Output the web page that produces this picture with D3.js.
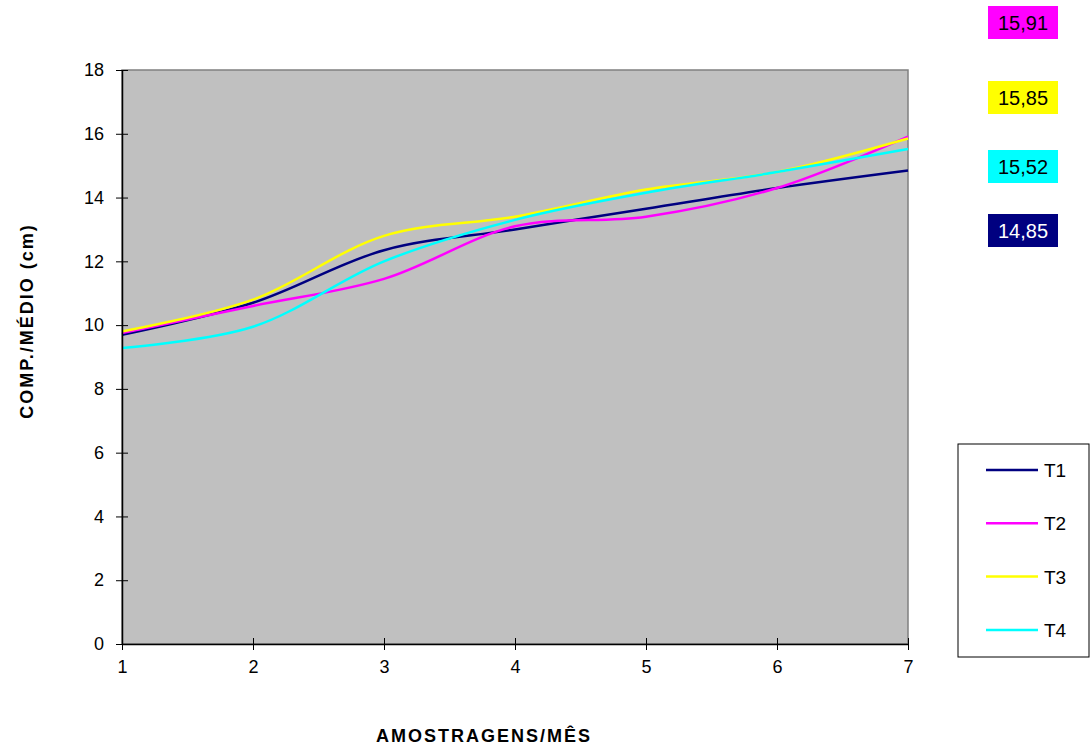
<!DOCTYPE html>
<html>
<head>
<meta charset="utf-8">
<script src="https://cdn.jsdelivr.net/npm/d3@7"></script>
<style>
  body { margin: 0; background: #fff; }
  svg text { font-family: Arial, "Liberation Sans", sans-serif; }
</style>
</head>
<body>
<div class="content"></div>
<script>
var amostras = [1, 2, 3, 4, 5, 6, 7];
var t1 = [9.7, 10.7, 12.35, 13.0, 13.65, 14.3, 14.85];
var t2 = [9.75, 10.6, 11.45, 13.1, 13.4, 14.3, 15.91];
var t3 = [9.8, 10.8, 12.8, 13.4, 14.25, 14.8, 15.85];
var t4 = [9.28, 9.95, 12.0, 13.3, 14.15, 14.8, 15.52];
var series = ['T1', 'T2', 'T3', 'T4'];
var cores = ['#000080', '#ff00ff', '#ffff00', '#00ffff'];
var yTicks = [0, 2, 4, 6, 8, 10, 12, 14, 16, 18];

var valores = [t1, t2, t3, t4];
var finais = ['14,85', '15,91', '15,85', '15,52'];

var svg = d3.select('.content')
  .append('svg')
  .attr('width', 1090)
  .attr('height', 748);

var margin = {left: 122, top: 70},
  width = 786,
  height = 574;

var svgG = svg.append('g')
  .attr('transform', 'translate(' + margin.left + ',' + margin.top + ')');

var x = d3.scaleLinear().domain([1, 7]).range([0, width]);
var y = d3.scaleLinear().domain([0, 18]).range([height, 0]);

// fundo cinza
svgG.append('rect')
  .attr('width', width)
  .attr('height', height)
  .attr('fill', '#c0c0c0')
  .attr('stroke', '#808080')
  .attr('stroke-width', 1.5);

var line = d3.line()
  .x(function(d, i) { return x(amostras[i]); })
  .y(function(d) { return y(d); })
  .curve(d3.curveCatmullRom.alpha(0.5));

svgG.selectAll('.serie')
  .data(valores)
  .enter()
  .append('path')
  .attr('class', 'serie')
  .attr('d', line)
  .attr('fill', 'none')
  .attr('stroke-width', 2.5)
  .style('stroke', function(d, i) { return cores[i]; });

var axis_y = svgG.append('g')
  .call(d3.axisLeft(y).tickValues(yTicks).tickSizeInner(6).tickSizeOuter(0).tickPadding(12))
  .attr('font-size', 18)
  .attr('font-family', null);
axis_y.selectAll('line').attr('x2', 6).attr('x1', -6).attr('stroke', '#000');
axis_y.selectAll('text').attr('fill', '#000');
axis_y.select('.domain').attr('stroke', '#000').attr('stroke-width', 1.5);

var axis_x = svgG.append('g')
  .attr('transform', 'translate(0,' + height + ')')
  .call(d3.axisBottom(x).tickValues(amostras).tickFormat(d3.format('d')).tickSizeInner(6).tickSizeOuter(0).tickPadding(10))
  .attr('font-size', 18)
  .attr('font-family', null);
axis_x.selectAll('line').attr('y1', -6).attr('y2', 6).attr('stroke', '#000');
axis_x.selectAll('text').attr('fill', '#000');
axis_x.select('.domain').attr('stroke', '#000').attr('stroke-width', 1.5);

// titulos dos eixos
svg.append('text')
  .attr('transform', 'translate(33,321) rotate(-90)')
  .attr('text-anchor', 'middle')
  .style('font-size', '18px')
  .style('font-weight', 'bold')
  .style('letter-spacing', '2px')
  .text('COMP./MÉDIO (cm)');

svg.append('text')
  .attr('x', 484)
  .attr('y', 742)
  .attr('text-anchor', 'middle')
  .style('font-size', '18px')
  .style('font-weight', 'bold')
  .style('letter-spacing', '2px')
  .text('AMOSTRAGENS/MÊS');

// rotulos dos valores finais
var rotulos = [
  {i: 1, top: 6},
  {i: 2, top: 81},
  {i: 3, top: 150},
  {i: 0, top: 214}
];
var rot = svg.selectAll('.rotulo')
  .data(rotulos)
  .enter()
  .append('g')
  .attr('class', 'rotulo')
  .attr('transform', function(d) { return 'translate(988,' + d.top + ')'; });
rot.append('rect')
  .attr('width', 70)
  .attr('height', 33)
  .attr('fill', function(d) { return cores[d.i]; });
rot.append('text')
  .attr('x', 35)
  .attr('y', 24)
  .attr('text-anchor', 'middle')
  .style('font-size', '20px')
  .attr('fill', function(d) { return d.i === 0 ? '#fff' : '#000'; })
  .text(function(d) { return finais[d.i]; });

// legenda
var leg = svg.append('g').attr('transform', 'translate(958,444)');
leg.append('rect')
  .attr('width', 131)
  .attr('height', 213)
  .attr('fill', '#fff')
  .attr('stroke', '#000')
  .attr('stroke-width', 1);
var item = leg.selectAll('.item')
  .data(series)
  .enter()
  .append('g')
  .attr('transform', function(d, i) { return 'translate(0,' + (26 + i * 53.3) + ')'; });
item.append('line')
  .attr('x1', 28).attr('x2', 80)
  .attr('stroke-width', 2.5)
  .attr('stroke', function(d, i) { return cores[i]; });
item.append('text')
  .attr('x', 86)
  .attr('y', 7)
  .style('font-size', '19px')
  .text(function(d) { return d; });
</script>
</body>
</html>
